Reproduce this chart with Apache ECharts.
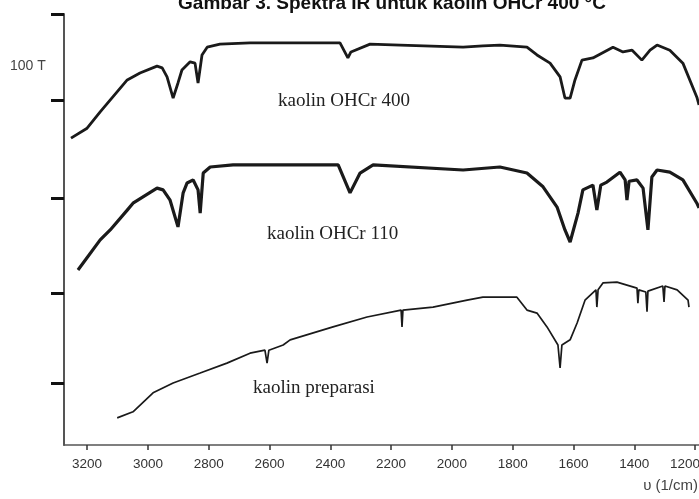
<!DOCTYPE html>
<html>
<head>
<meta charset="utf-8">
<script src="https://cdn.jsdelivr.net/npm/echarts@6/dist/echarts.min.js"></script>
<style>html,body{margin:0;padding:0;background:#fff;}#c{width:699px;height:499px;}</style>
</head>
<body>
<div id="c"></div>
<script>
// Wavenumber (1/cm) and transmittance (arbitrary %T, stacked offsets)
const wnTicks = [3200, 3000, 2800, 2600, 2400, 2200, 2000, 1800, 1600, 1400, 1200];
const yTicks = [14.4, 35.3, 57.3, 80, 100];

const ohcr400 = [
  [3253,71.2],[3200,73.5],[3157,77.3],[3068,84.7],[3026,86.3],[2970,87.9],[2953,87.5],
  [2937,85.4],[2917,80.5],[2901,84.0],[2888,87.0],[2861,88.9],[2845,88.6],[2835,84.0],
  [2822,90.5],[2805,92.3],[2763,93.0],[2664,93.3],[2368,93.3],[2342,89.8],[2332,91.2],
  [2269,93.0],[2170,92.8],[1963,92.3],[1898,92.6],[1842,92.8],[1753,92.3],[1720,90.5],
  [1677,88.6],[1644,85.4],[1628,80.5],[1611,80.5],[1595,84.7],[1572,89.3],[1536,89.8],
  [1470,92.3],[1437,91.2],[1407,91.6],[1375,89.3],[1348,91.6],[1325,92.8],[1283,91.6],
  [1240,88.6],[1194,80.7],[1187,78.9]
];

const ohcr110 = [
  [3230,40.6],[3157,47.6],[3124,49.9],[3068,54.5],[3049,56.1],[2970,59.6],[2950,59.2],
  [2927,56.8],[2901,50.6],[2884,58.5],[2871,60.8],[2851,61.5],[2835,59.2],[2828,53.8],
  [2818,63.1],[2795,64.5],[2720,65.0],[2374,65.0],[2335,58.5],[2302,63.1],[2259,65.0],
  [1963,63.8],[1842,64.5],[1753,63.1],[1700,59.9],[1654,55.2],[1628,49.9],[1611,47.1],
  [1585,53.8],[1569,59.2],[1536,60.3],[1523,54.5],[1510,60.3],[1490,61.0],[1447,63.3],
  [1430,61.5],[1424,56.8],[1417,61.2],[1391,61.5],[1371,59.6],[1355,49.9],[1342,62.2],
  [1325,63.8],[1283,63.3],[1240,61.5],[1194,56.1],[1187,55.0]
];

const preparasi = [
  [3101,6.3],[3049,7.7],[2983,12.1],[2917,14.4],[2828,16.7],[2740,19.0],[2664,21.3],
  [2615,22.0],[2608,19.0],[2602,22.0],[2555,23.2],[2532,24.4],[2391,27.4],[2279,29.7],
  [2167,31.3],[2164,27.4],[2161,31.3],[2062,32.0],[1950,33.6],[1898,34.3],[1786,34.3],
  [1753,31.3],[1720,30.6],[1687,27.4],[1651,23.2],[1644,17.9],[1638,23.2],[1611,24.4],
  [1588,28.3],[1562,33.6],[1526,36.0],[1523,32.0],[1519,36.0],[1503,37.6],[1457,37.8],
  [1391,36.4],[1388,32.9],[1385,36.0],[1362,35.5],[1358,30.9],[1355,35.7],[1306,36.9],
  [1302,33.2],[1299,36.9],[1259,36.0],[1223,33.6],[1220,32.0]
];

const chart = echarts.init(document.getElementById('c'));
chart.setOption({
  animation: false,
  backgroundColor: '#fff',
  grid: { left: 64, right: 0, top: 14, bottom: 54, containLabel: false, outerBoundsMode: 'none' },
  xAxis: {
    type: 'value', inverse: true, min: 1187, max: 3276,
    axisLine: { lineStyle: { color: '#555', width: 1.5 } },
    axisTick: { show: true, length: 5, lineStyle: { color: '#333', width: 1.5 }, customValues: wnTicks },
    axisLabel: { color: '#333', fontSize: 13.5, fontFamily: 'Liberation Sans, Arial', margin: 12, customValues: wnTicks,
      formatter: function (v) { return v === 1200 ? '{e|1200}' : String(v); },
      rich: { e: { color: '#333', fontSize: 13.5, fontFamily: 'Liberation Sans, Arial', padding: [0, 20, 0, 0] } },
      hideOverlap: false, showMinLabel: true, showMaxLabel: true },
    splitLine: { show: false }
  },
  yAxis: {
    type: 'value', min: 0, max: 100,
    axisLine: { show: true, lineStyle: { color: '#555', width: 2 } },
    axisTick: { show: true, length: 13, lineStyle: { color: '#111', width: 3 }, customValues: yTicks },
    axisLabel: { show: false },
    splitLine: { show: false }
  },
  series: [
    { type: 'line', data: ohcr400, showSymbol: false, lineStyle: { color: '#1a1a1a', width: 2.8 }, z: 3 },
    { type: 'line', data: ohcr110, showSymbol: false, lineStyle: { color: '#1a1a1a', width: 3.2 }, z: 3 },
    { type: 'line', data: preparasi, showSymbol: false, lineStyle: { color: '#1a1a1a', width: 1.7 }, z: 3 }
  ],
  graphic: [
    { type: 'text', style: { text: 'Gambar 3. Spektra IR untuk kaolin OHCr 400 °C', x: 392, y: 13, textAlign: 'center', textVerticalAlign: 'bottom', font: 'bold 19px "Liberation Sans", Arial', fill: '#111' } },
    { type: 'text', style: { text: '100 T', x: 10, y: 66, textVerticalAlign: 'middle', font: '14px "Liberation Sans", Arial', fill: '#444' } },
    { type: 'text', style: { text: 'kaolin OHCr 400', x: 278, y: 101, textVerticalAlign: 'middle', font: '19px "Liberation Serif", "Times New Roman", serif', fill: '#222' } },
    { type: 'text', style: { text: 'kaolin OHCr 110', x: 267, y: 234, textVerticalAlign: 'middle', font: '19px "Liberation Serif", "Times New Roman", serif', fill: '#222' } },
    { type: 'text', style: { text: 'kaolin preparasi', x: 253, y: 388, textVerticalAlign: 'middle', font: '19px "Liberation Serif", "Times New Roman", serif', fill: '#222' } },
    { type: 'text', style: { text: 'υ (1/cm)', x: 698, y: 486, textAlign: 'right', textVerticalAlign: 'middle', font: '15px "Liberation Sans", Arial', fill: '#444' } }
  ]
});
</script>
</body>
</html>
